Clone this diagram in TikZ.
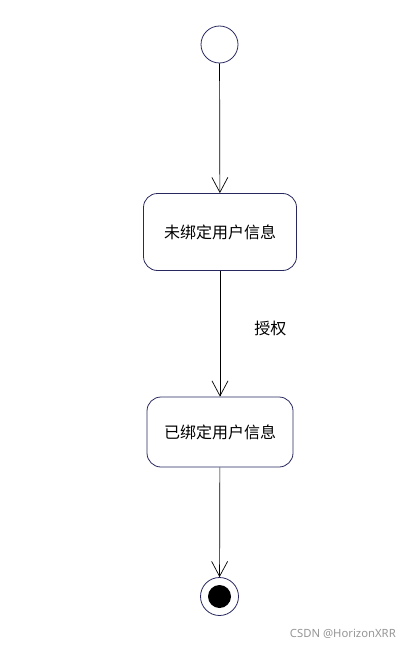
\documentclass[tikz,border=0pt]{standalone}
\usepackage{fontspec}
\newfontfamily\cjk{Noto Sans CJK SC}
\newfontfamily\wm{Noto Sans}
\usetikzlibrary{arrows.meta}
\definecolor{umlblue}{RGB}{40,40,95}
\definecolor{wmgray}{RGB}{150,150,150}
\begin{document}
\begin{tikzpicture}[x=1pt,y=-1pt,
  statebox/.style={draw=umlblue, line width=0.8pt, rounded corners=14pt, minimum width=146pt, minimum height=70pt, inner sep=0pt, font=\cjk\fontsize{16}{18}\selectfont},
  initstate/.style={circle, draw=umlblue, line width=0.8pt, minimum size=37pt, inner sep=0pt},
  flow/.style={black, line width=0.7pt, -{Straight Barb[length=15pt,width=16pt,line width=0.7pt]}},
  lbl/.style={font=\cjk\fontsize{16}{18}\selectfont, inner sep=0pt}]
\useasboundingbox (0,0) rectangle (410,650);
\node[initstate] (start) at (219.5,44.5) {};
\node[statebox, minimum width=153pt, minimum height=77pt] (s1) at (220,232) {未绑定用户信息};
\node[statebox] (s2) at (220,432) {已绑定用户信息};
\node[circle, draw=umlblue, line width=0.8pt, minimum size=38pt, inner sep=0pt] (end) at (219.5,596.5) {};
\node[circle, fill=black, minimum size=23pt, inner sep=0pt] (endin) at (end.center) {};
\draw[flow] (start) -- (s1);
\draw[flow] (s1) -- node[lbl, pos=0.46, right=34pt] (auth) {授权} (s2);
\draw[flow] (s2) -- (end);
\node[font=\wm\fontsize{11.3}{13}\selectfont, text=wmgray, anchor=east, inner sep=0pt] (wmk) at (396,634) {CSDN @HorizonXRR};
\end{tikzpicture}
\end{document}
